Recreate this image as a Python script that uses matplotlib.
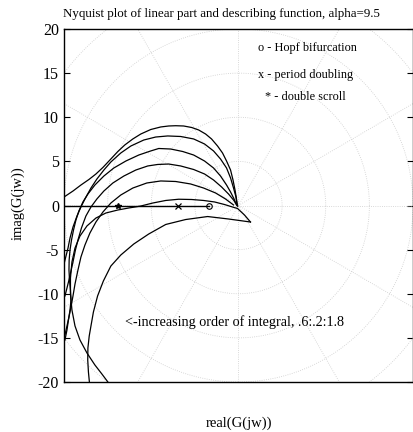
"""
Nyquist plot of the linear part of the fractional Chua circuit together with
the describing function locus on the negative real axis.
"""

import numpy as np
import matplotlib
matplotlib.use('Agg')
import matplotlib.pyplot as plt

plt.rcParams['font.family'] = 'serif'
plt.rcParams['font.serif'] = ['Liberation Serif', 'DejaVu Serif']
plt.rcParams['font.size'] = 10
plt.rcParams['axes.unicode_minus'] = False

# nyquist traces, one per order of the integral (real part, imag part)
q06_re = [-20.0, -18.97, -18.06, -17.14, -16.34, -15.54, -14.63, -13.83, -13.03, -12.11, -11.2, -10.06,
          -8.91, -8.0, -7.2, -6.29, -5.37, -4.57, -3.77, -3.09, -2.4, -1.83, -1.37, -0.91, -0.63, -0.4,
          -0.23, -0.11]
q06_im = [0.96, 1.64, 2.32, 2.95, 3.57, 4.31, 5.27, 6.12, 6.86, 7.54, 8.1, 8.61,
          8.9, 9.01, 9.04, 9.01, 8.84, 8.56, 8.1, 7.54, 6.74, 5.95, 5.04, 4.02, 2.89, 1.76,
          0.74, -0.06]

q08_re = [-19.94, -19.77, -19.54, -19.31, -18.97, -18.51, -18.06, -17.6, -16.91, -16.23, -15.43, -14.63,
          -13.49, -12.34, -10.86, -9.49, -8.11, -6.63, -5.14, -3.89, -2.86, -2.06, -1.37, -0.91, -0.57,
          -0.29, -0.17]
q08_im = [-6.4, -5.72, -4.82, -3.68, -2.44, -1.19, -0.17, 0.74, 1.98, 3.0, 4.02, 4.93,
          5.95, 6.74, 7.42, 7.76, 7.88, 7.82, 7.54, 6.97, 6.18, 5.27, 4.25, 3.12, 1.98,
          0.96, 0.06]

q10_re = [-19.89, -19.66, -19.49, -19.31, -19.2, -19.26, -19.37, -19.43, -19.41, -19.31, -19.14, -18.91,
          -18.63, -18.29, -17.83, -17.26, -16.46, -15.43, -14.29, -12.91, -11.43, -10.06, -9.14, -7.77,
          -6.4, -5.14, -3.89, -2.86, -2.06, -1.37, -0.91, -0.51, -0.23]
q10_im = [-15.24, -14.11, -12.97, -11.84, -10.71, -9.58, -8.44, -7.31, -6.18, -5.04, -3.91, -2.78,
          -1.64, -0.62, 0.4, 1.3, 2.32, 3.34, 4.25, 5.04, 5.72, 6.18, 6.46, 6.4,
          6.12, 5.72, 5.04, 4.25, 3.34, 2.32, 1.53, 0.74, 0.06]

q12_re = [-19.89, -19.66, -19.43, -19.2, -18.97, -18.69, -18.4, -18.0, -17.49, -16.91, -16.23, -15.43,
          -14.4, -13.14, -11.77, -10.4, -9.26, -8.0, -6.63, -5.14, -3.89, -2.86, -1.94, -1.14, -0.57,
          -0.11]
q12_im = [-10.25, -9.35, -8.44, -7.42, -6.4, -5.04, -3.91, -2.55, -1.19, -0.17, 0.74, 1.64,
          2.55, 3.34, 4.02, 4.48, 4.65, 4.7, 4.48, 4.08, 3.57, 2.89, 2.1, 1.3, 0.62,
          -0.06]

q14_re = [-19.89, -19.66, -19.43, -19.2, -18.97, -18.74, -18.4, -18.06, -17.6, -17.03, -16.34, -15.54,
          -14.63, -13.49, -12.11, -10.51, -8.91, -7.2, -5.49, -4.0, -2.63, -1.49, -0.57]
q14_im = [-14.67, -13.65, -12.63, -11.5, -10.25, -8.9, -7.31, -5.84, -4.48, -3.12, -1.87, -0.74,
          0.28, 1.19, 1.98, 2.55, 2.78, 2.72, 2.44, 1.98, 1.42, 0.74, 0.06]

q16_re = [-14.97, -15.66, -16.46, -17.37, -18.17, -18.74, -19.09, -19.26, -19.26, -19.09, -18.74, -18.17,
          -17.37, -16.34, -15.2, -13.83, -12.57, -11.2, -9.83, -8.34, -6.86, -5.37, -4.0, -2.74, -1.6,
          -0.69, -0.11, 0.69, 1.37]
q16_im = [-20.0, -19.09, -18.07, -16.71, -15.24, -13.65, -11.84, -10.03, -8.22, -6.4, -4.82, -3.46,
          -2.32, -1.42, -0.85, -0.51, -0.28, -0.06, 0.28, 0.57, 0.71, 0.68, 0.57, 0.4, 0.11,
          -0.17, -0.34, -1.08, -1.87]

q18_re = [-17.09, -17.2, -17.28, -17.26, -17.11, -16.91, -16.63, -16.15, -15.49, -14.63, -13.49, -12.0,
          -10.29, -8.34, -6.06, -3.54, -1.14, 1.37]
q18_im = [-20.0, -18.87, -17.51, -16.15, -14.79, -13.65, -12.07, -10.25, -8.56, -6.86, -5.61, -4.36,
          -3.23, -2.15, -1.59, -1.25, -1.53, -1.87]

# describing function locus and bifurcation points on the real axis
df_re = [-20.0, -3.4]
df_im = [0.0, 0.0]
hopf_re = -3.4
pd_re = -6.9
scroll_re = -13.8

traces = [(q06_re, q06_im), (q08_re, q08_im), (q10_re, q10_im), (q12_re, q12_im),
          (q14_re, q14_im), (q16_re, q16_im), (q18_re, q18_im)]

fig = plt.figure(figsize=(4.14, 4.32), dpi=100)
ax = fig.add_axes([64 / 414, 50 / 432, 349 / 414, 353 / 432])

# polar grid around the origin
th = np.linspace(0, 2 * np.pi, 361)
for r in [5, 10, 15, 20, 25]:
    ax.plot(r * np.cos(th), r * np.sin(th), ':', color='#cccccc', lw=0.6)
for ang in np.arange(0, 360, 30):
    a = np.deg2rad(ang)
    ax.plot([0, 30 * np.cos(a)], [0, 30 * np.sin(a)], ':', color='#cccccc', lw=0.6)

for re, im in traces:
    ax.plot(re, im, color='black', lw=0.9)

ax.plot(df_re, df_im, color='black', lw=1.0)
ax.plot(hopf_re, 0, 'o', mfc='none', mec='black', ms=4, mew=0.8)
ax.plot(pd_re, 0, 'x', color='black', ms=4, mew=0.9)
ax.plot(scroll_re, 0, '*', color='black', ms=4)

ax.set_xlim(-20, 20)
ax.set_ylim(-20, 20)
ax.set_xticks([])
ax.set_yticks([-20, -15, -10, -5, 0, 5, 10, 15, 20])
ax.tick_params(axis='y', direction='in', right=True, length=4, labelsize=11.5)
for s in ax.spines.values():
    s.set_linewidth(1.0)

ax.text(2.2, 17.8, 'o - Hopf bifurcation', fontsize=8.8, va='center')
ax.text(2.2, 14.8, 'x - period doubling', fontsize=8.8, va='center')
ax.text(3.0, 12.3, '* - double scroll', fontsize=8.8, va='center')
ax.text(-13.0, -13.2, '<-increasing order of integral, .6:.2:1.8', fontsize=10.2, va='center')

fig.text(63 / 414, 1 - 14 / 432, 'Nyquist plot of linear part and describing function, alpha=9.5',
         fontsize=9.4, va='center', ha='left')
fig.text(239 / 414, 1 - 423 / 432, 'real(G(jw))', fontsize=10.5, ha='center', va='center')
fig.text(18 / 414, 1 - 203 / 432, 'imag(G(jw))', fontsize=10.5, ha='center', va='center', rotation=90)

fig.savefig('out.png', dpi=100)
